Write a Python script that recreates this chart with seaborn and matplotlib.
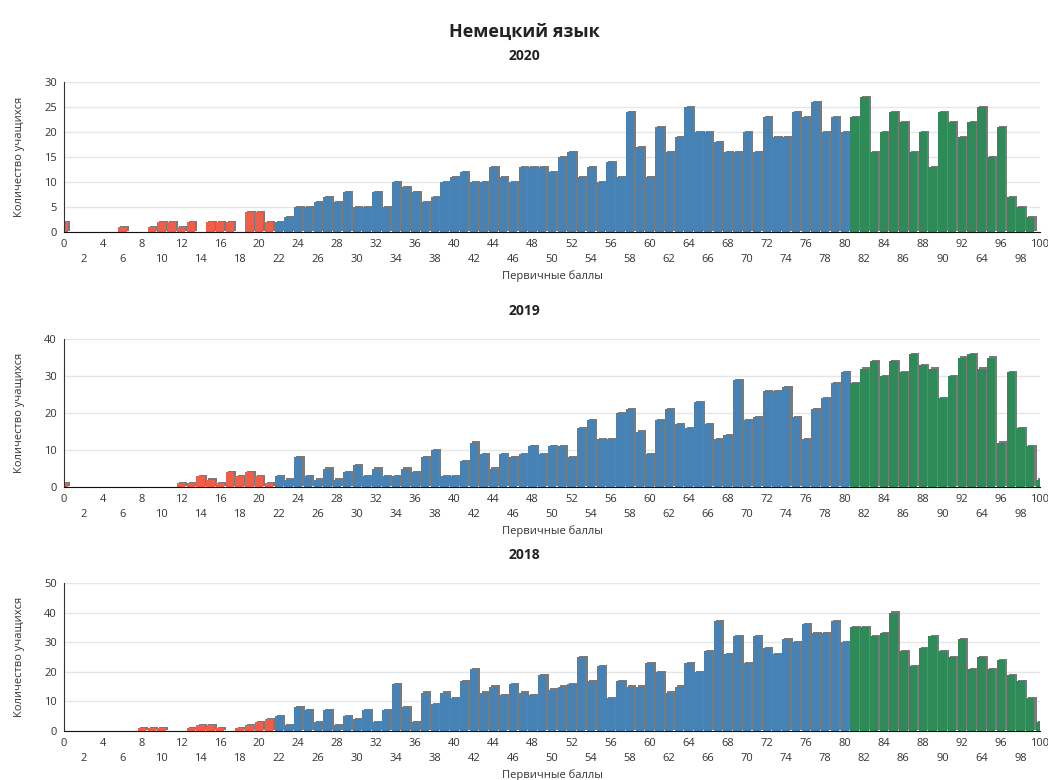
import numpy as np
import pandas as pd
import matplotlib
matplotlib.use("Agg")
import matplotlib.pyplot as plt
import matplotlib.patheffects as pe
import seaborn as sns

scores = list(range(0, 101))

counts_2020 = [2, 0, 0, 0, 0, 0, 1, 0, 0, 1,
               2, 2, 1, 2, 0, 2, 2, 2, 0, 4,
               4, 2, 2, 3, 5, 5, 6, 7, 6, 8,
               5, 5, 8, 5, 10, 9, 8, 6, 7, 10,
               11, 12, 10, 10, 13, 11, 10, 13, 13, 13,
               12, 15, 16, 11, 13, 10, 14, 11, 24, 17,
               11, 21, 16, 19, 25, 20, 20, 18, 16, 16,
               20, 16, 23, 19, 19, 24, 23, 26, 20, 23,
               20, 23, 27, 16, 20, 24, 22, 16, 20, 13,
               24, 22, 19, 22, 25, 15, 21, 7, 5, 3,
               0]

counts_2019 = [1, 0, 0, 0, 0, 0, 0, 0, 0, 0,
               0, 0, 1, 1, 3, 2, 1, 4, 3, 4,
               3, 1, 3, 2, 8, 3, 2, 5, 2, 4,
               6, 3, 5, 3, 3, 5, 4, 8, 10, 3,
               3, 7, 12, 9, 5, 9, 8, 9, 11, 9,
               11, 11, 8, 16, 18, 13, 13, 20, 21, 15,
               9, 18, 21, 17, 16, 23, 17, 13, 14, 29,
               18, 19, 26, 26, 27, 19, 13, 21, 24, 28,
               31, 28, 32, 34, 30, 34, 31, 36, 33, 32,
               24, 30, 35, 36, 32, 35, 12, 31, 16, 11,
               2]

counts_2018 = [0, 0, 0, 0, 0, 0, 0, 0, 1, 1,
               1, 0, 0, 1, 2, 2, 1, 0, 1, 2,
               3, 4, 5, 2, 8, 7, 3, 7, 2, 5,
               4, 7, 3, 7, 16, 8, 3, 13, 9, 13,
               11, 17, 21, 13, 15, 12, 16, 13, 12, 19,
               14, 15, 16, 25, 17, 22, 11, 17, 15, 15,
               23, 20, 13, 15, 23, 20, 27, 37, 26, 32,
               23, 32, 28, 26, 31, 30, 36, 33, 33, 37,
               30, 35, 35, 32, 33, 40, 27, 22, 28, 32,
               27, 25, 31, 21, 25, 21, 24, 19, 17, 11,
               3]

years = ["2020", "2019", "2018"]
all_counts = [counts_2020, counts_2019, counts_2018]
y_max = [30, 40, 50]
y_step = [5, 10, 10]

# tick labels as in the source (94 is shown as "64")
tick_vals = list(range(0, 101, 2))
tick_text = [str(v) for v in tick_vals]
tick_text[tick_vals.index(94)] = "64"
tick_text = [t if v % 4 == 0 else "\n" + t for v, t in zip(tick_vals, tick_text)]

def group(s):
    if s <= 21:
        return "low"
    if s <= 80:
        return "mid"
    return "high"

colors = {"low": "#f05d48", "mid": "#4682b4", "high": "#2e8b57"}

sns.set_style("white")
plt.rcParams['font.family'] = ['Open Sans', 'DejaVu Sans']

W, H = 1048, 780
fig = plt.figure(figsize=(W / 100, H / 100), dpi=100)
fig.text(0.5, 1 - 32 / H, "Немецкий язык", ha="center", va="center",
         fontsize=13, fontweight="bold", color="#222222")

# (top px, bottom px, title px)
boxes = [(82, 232, 56), (339, 487, 311), (583, 731, 555)]

for year, cnt, ym, ys, (top, bot, ty) in zip(years, all_counts, y_max, y_step, boxes):
    ax = fig.add_axes([64 / W, 1 - bot / H, 976 / W, (bot - top) / H])
    df = pd.DataFrame({"score": scores, "count": cnt})
    df["grp"] = df["score"].apply(group)
    sns.barplot(data=df, x="score", y="count", hue="grp", palette=colors,
                native_scale=True, dodge=False, width=0.86, legend=False,
                saturation=1, linewidth=0, ax=ax)
    for p in ax.patches:
        p.set_linewidth(0)
        p.set_path_effects([pe.SimplePatchShadow(offset=(1.5, 0.8), shadow_rgbFace="#7a7a7a", alpha=1.0),
                            pe.Normal()])
    ax.set_xlim(0, 100)
    ax.set_ylim(0, ym)
    ax.set_yticks(np.arange(0, ym + 1, ys))
    ax.set_xticks(tick_vals)
    ax.set_xticklabels(tick_text)
    for lab in ax.get_xticklabels():
        lab.set_linespacing(1.45)
    ax.tick_params(axis="both", labelsize=8, length=3, width=1, colors="#555555",
                   labelcolor="#333333", pad=2)
    ax.yaxis.grid(True, color="#e6e6e6", lw=1)
    ax.set_axisbelow(True)
    sns.despine(ax=ax)
    ax.spines["left"].set_color("#333333")
    ax.spines["bottom"].set_color("#111111")
    ax.set_ylabel("Количество учащихся", fontsize=8, color="#333333", labelpad=14)
    ax.set_xlabel("Первичные баллы", fontsize=8, color="#333333", labelpad=4)
    fig.text(0.5, 1 - ty / H, year, ha="center", va="center",
             fontsize=10, fontweight="bold", color="#222222")

fig.savefig("out.png", dpi=100)
